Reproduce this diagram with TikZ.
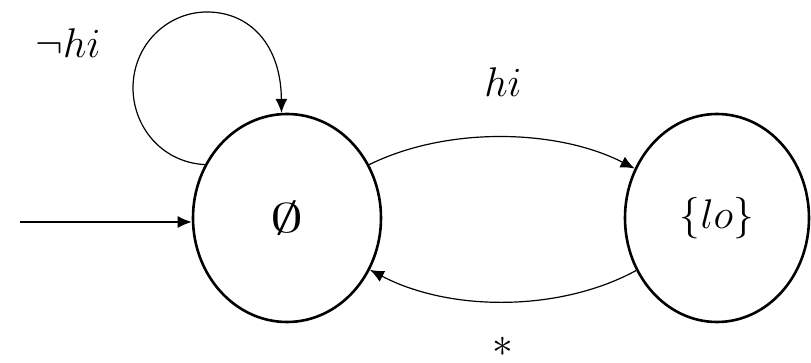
\documentclass[tikz,border=0pt]{standalone}
\usetikzlibrary{shapes.geometric,arrows.meta}

\begin{document}
\begin{tikzpicture}[x=0.5pt,y=-0.5pt,
  state/.style={draw,ellipse,line width=1.3pt,minimum width=94pt,minimum height=104pt,inner sep=0pt},
  edge/.style={->,line width=0.6pt},
  lbl/.style={inner sep=0pt},
  >={Latex[length=7pt,width=6pt]},
  font=\fontsize{22}{26}\selectfont]
\useasboundingbox (0,0) rectangle (811,363);

\node[state] (empty) at (287,218) {\scalebox{1.6}[1]{$\emptyset$}};
\node[state,minimum width=92pt] (lo) at (717,218) {$\{lo\}$};

\coordinate (start) at (20,222);
\draw[edge] (start) -- (start -| empty.west);

\draw[edge] (empty.147) .. controls (160,162) and (133,125) .. (133,88)
  .. controls (133,45) and (167,12) .. (207,12)
  .. controls (250,12) and (281,45) .. (empty.93);
\node[lbl] (nothi) at (68,43) {$\neg hi$};

\draw[edge] (empty.33) .. controls (450,125) and (560,130) .. (lo.149);
\node[lbl] (hi) at (503,82) {$hi$};

\draw[edge] (lo.213) .. controls (560,312) and (450,312) .. (empty.328);
\node[lbl] (any) at (503,347) {$*$};
\end{tikzpicture}
\end{document}
